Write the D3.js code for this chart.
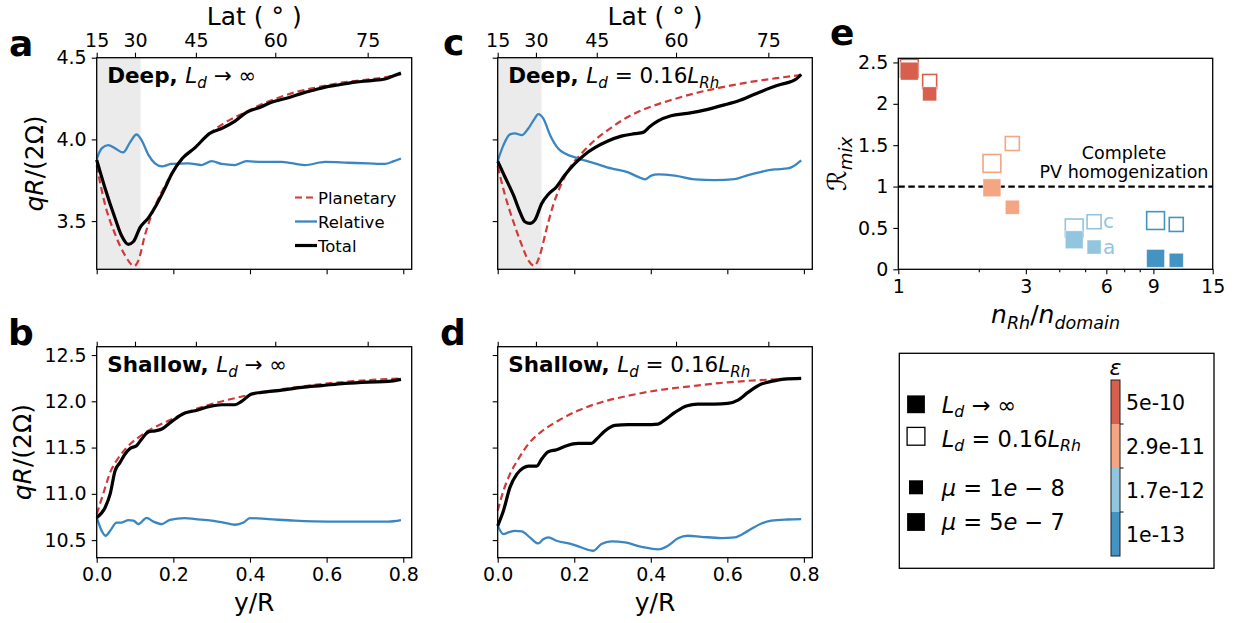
<!DOCTYPE html>
<html><head><meta charset="utf-8">
<script src="https://cdn.jsdelivr.net/npm/d3@7"></script>
<style>body{margin:0;background:#fff} svg{display:block} text{font-family:"DejaVu Sans",sans-serif;white-space:pre}</style>
</head><body><svg id="c" width="1237" height="623"></svg>
<script>
// ---------------- DATA ----------------
const latTicks = [15, 30, 45, 60, 75];
const yrTicks = [0.0, 0.2, 0.4, 0.6, 0.8];
const deepTicks = [3.5, 4.0, 4.5];
const shallowTicks = [10.5, 11.0, 11.5, 12.0, 12.5];
const shadeEnd = 0.115;

const aPlanetary = [[0,3.84],[0.022,3.60],[0.048,3.42],[0.074,3.29],[0.098,3.225],[0.109,3.26],[0.126,3.415],[0.143,3.537],[0.17,3.68],[0.196,3.79],[0.222,3.875],[0.26,3.96],[0.30,4.046],[0.34,4.11],[0.387,4.165],[0.43,4.215],[0.474,4.255],[0.52,4.29],[0.561,4.312],[0.60,4.33],[0.648,4.35],[0.69,4.362],[0.735,4.374],[0.794,4.398]];
const aRelative = [[0,3.88],[0.013,3.945],[0.030,3.965],[0.048,3.945],[0.069,3.92],[0.087,3.982],[0.104,4.03],[0.117,3.996],[0.135,3.905],[0.152,3.853],[0.17,3.835],[0.196,3.85],[0.239,3.853],[0.274,3.843],[0.30,3.867],[0.326,3.85],[0.361,3.843],[0.391,3.867],[0.43,3.862],[0.483,3.863],[0.543,3.843],[0.596,3.862],[0.657,3.857],[0.709,3.853],[0.752,3.85],[0.774,3.865],[0.794,3.883]];
const aTotal = [[0,3.875],[0.022,3.70],[0.048,3.517],[0.065,3.41],[0.0825,3.358],[0.096,3.375],[0.113,3.46],[0.135,3.52],[0.156,3.60],[0.178,3.70],[0.196,3.79],[0.222,3.88],[0.257,3.95],[0.295,4.037],[0.326,4.067],[0.361,4.112],[0.391,4.165],[0.430,4.20],[0.456,4.227],[0.50,4.255],[0.543,4.288],[0.570,4.304],[0.596,4.32],[0.63,4.333],[0.674,4.35],[0.717,4.36],[0.752,4.37],[0.769,4.384],[0.794,4.406]];

const cPlanetary = [[0,3.835],[0.019,3.66],[0.041,3.496],[0.063,3.353],[0.08,3.26],[0.096,3.227],[0.11,3.29],[0.128,3.455],[0.145,3.598],[0.167,3.73],[0.193,3.843],[0.219,3.914],[0.254,3.996],[0.297,4.072],[0.341,4.139],[0.393,4.194],[0.445,4.235],[0.515,4.282],[0.584,4.318],[0.654,4.349],[0.723,4.373],[0.793,4.394]];
const cRelative = [[0,3.868],[0.015,3.965],[0.032,4.031],[0.045,4.037],[0.063,4.026],[0.08,4.067],[0.097,4.129],[0.106,4.155],[0.119,4.129],[0.137,4.026],[0.158,3.945],[0.176,3.914],[0.21,3.884],[0.254,3.853],[0.297,3.822],[0.341,3.798],[0.367,3.771],[0.385,3.755],[0.401,3.778],[0.419,3.786],[0.463,3.778],[0.515,3.755],[0.567,3.751],[0.619,3.757],[0.654,3.782],[0.689,3.802],[0.723,3.816],[0.758,3.822],[0.775,3.839],[0.793,3.871]];
const cTotal = [[0,3.866],[0.019,3.77],[0.041,3.66],[0.058,3.557],[0.071,3.496],[0.084,3.486],[0.097,3.506],[0.115,3.608],[0.132,3.663],[0.154,3.71],[0.175,3.78],[0.202,3.853],[0.228,3.908],[0.254,3.949],[0.288,3.99],[0.323,4.02],[0.358,4.035],[0.380,4.043],[0.397,4.078],[0.418,4.112],[0.453,4.145],[0.496,4.159],[0.549,4.184],[0.601,4.217],[0.628,4.235],[0.671,4.276],[0.715,4.317],[0.741,4.337],[0.767,4.354],[0.780,4.37],[0.793,4.398]];

const bPlanetary = [[0,10.78],[0.017,11.0],[0.035,11.23],[0.057,11.39],[0.083,11.52],[0.109,11.61],[0.143,11.70],[0.187,11.79],[0.239,11.887],[0.30,11.97],[0.369,12.042],[0.43,12.096],[0.517,12.15],[0.604,12.194],[0.691,12.223],[0.794,12.248]];
const bRelative = [[0,10.745],[0.013,10.60],[0.023,10.547],[0.035,10.60],[0.052,10.69],[0.065,10.69],[0.083,10.716],[0.096,10.71],[0.109,10.673],[0.13,10.74],[0.148,10.70],[0.17,10.673],[0.191,10.72],[0.23,10.738],[0.257,10.727],[0.30,10.71],[0.33,10.69],[0.361,10.666],[0.383,10.69],[0.40,10.738],[0.448,10.727],[0.517,10.71],[0.604,10.70],[0.691,10.70],[0.761,10.70],[0.794,10.716]];
const bTotal = [[0,10.745],[0.022,10.853],[0.035,10.997],[0.048,11.25],[0.061,11.34],[0.074,11.43],[0.087,11.49],[0.104,11.52],[0.117,11.59],[0.135,11.67],[0.152,11.68],[0.17,11.70],[0.196,11.783],[0.230,11.873],[0.257,11.898],[0.295,11.945],[0.326,11.963],[0.361,11.963],[0.378,11.999],[0.404,12.078],[0.430,12.096],[0.483,12.12],[0.535,12.15],[0.587,12.17],[0.648,12.194],[0.709,12.208],[0.761,12.215],[0.794,12.237]];

const dPlanetary = [[0,10.82],[0.015,11.033],[0.032,11.213],[0.054,11.376],[0.080,11.538],[0.115,11.675],[0.158,11.79],[0.21,11.90],[0.271,11.99],[0.341,12.06],[0.428,12.125],[0.515,12.168],[0.601,12.205],[0.689,12.23],[0.793,12.248]];
const dRelative = [[0,10.655],[0.015,10.565],[0.028,10.583],[0.045,10.60],[0.063,10.594],[0.084,10.53],[0.106,10.464],[0.119,10.51],[0.132,10.53],[0.154,10.493],[0.193,10.457],[0.219,10.42],[0.249,10.385],[0.271,10.457],[0.297,10.486],[0.332,10.475],[0.376,10.428],[0.419,10.40],[0.445,10.44],[0.471,10.52],[0.497,10.547],[0.532,10.536],[0.584,10.522],[0.619,10.53],[0.654,10.60],[0.689,10.68],[0.715,10.71],[0.758,10.723],[0.793,10.727]];
const dTotal = [[0,10.655],[0.015,10.817],[0.032,11.07],[0.05,11.213],[0.067,11.28],[0.08,11.30],[0.102,11.30],[0.115,11.376],[0.132,11.455],[0.154,11.477],[0.18,11.52],[0.21,11.545],[0.245,11.545],[0.258,11.59],[0.28,11.68],[0.306,11.74],[0.341,11.747],[0.385,11.747],[0.419,11.754],[0.436,11.797],[0.463,11.88],[0.493,11.95],[0.523,11.97],[0.567,11.97],[0.601,11.977],[0.628,12.013],[0.654,12.096],[0.689,12.186],[0.715,12.215],[0.749,12.24],[0.793,12.248]];

// Panel e
const epsLabels = ["5e-10", "2.9e-11", "1.7e-12", "1e-13"];
const epsColors = ["#d6604d", "#f4a582", "#92c5de", "#4393c3"];
const eNratio = [1.10, 1.10, 1.31, 1.31, 2.24, 2.24, 2.67, 2.67, 4.55, 4.55, 5.40, 5.40, 9.17, 9.17, 10.96, 10.96];
const eRmix   = [2.43, 2.395, 2.27, 2.12, 1.28, 0.985, 1.52, 0.75, 0.50, 0.357, 0.575, 0.269, 0.589, 0.132, 0.542, 0.109];
const eEps    = [0, 0, 0, 0, 1, 1, 1, 1, 2, 2, 2, 2, 3, 3, 3, 3];
const eLd     = ["0.16", "inf", "0.16", "inf", "0.16", "inf", "0.16", "inf", "0.16", "inf", "0.16", "inf", "0.16", "inf", "0.16", "inf"];
const eMu     = ["5e-7", "5e-7", "1e-8", "1e-8", "5e-7", "5e-7", "1e-8", "1e-8", "5e-7", "5e-7", "1e-8", "1e-8", "5e-7", "5e-7", "1e-8", "1e-8"];
const eXTicks = [1, 3, 6, 9, 15];
const eXMinor = [2, 4, 5, 7, 8];
const eYTicks = [0, 0.5, 1, 1.5, 2, 2.5];

// ---------------- DRAWING ----------------
const svg = d3.select("#c");
const RED = "#cf3b3b", BLUE = "#3a86c2", BLACK = "#000";
const TICK_FS = 19, LAB_FS = 25;

function rich(parent, x, y, segs, fs, anchor, rot) {
  const t = parent.append("text").attr("x", x).attr("y", y).attr("font-size", fs)
    .attr("text-anchor", anchor || "start").attr("fill", "#000");
  if (rot != null) t.attr("transform", `rotate(${rot},${x},${y})`);
  let shift = 0;
  segs.forEach(s => {
    const sp = t.append("tspan").text(s.t);
    const target = s.sub ? fs * 0.22 : 0;
    if (target - shift !== 0) sp.attr("dy", target - shift);
    shift = target;
    if (s.sub) sp.attr("font-size", fs * 0.7);
    if (s.it) sp.attr("font-style", "italic");
    if (s.b) sp.attr("font-weight", "bold");
  });
  return t;
}

function styleAxis(g, fs) {
  g.select(".domain").remove();
  g.selectAll(".tick line").attr("stroke", "#000").attr("stroke-width", 1.1);
  g.selectAll(".tick text").attr("font-size", fs).attr("fill", "#000").style("font-family", "DejaVu Sans");
}

const latToY = lat => Math.cos(15 * Math.PI / 180) - Math.cos(lat * Math.PI / 180);

function panel(cfg) {
  const { L, R, T, B, ydom, yticks } = cfg;
  const x = d3.scaleLinear([0, 0.822], [L, R]);
  const y = d3.scaleLinear(ydom, [B, T]);
  const g = svg.append("g");
  if (cfg.shade) {
    g.append("rect").attr("x", x(0)).attr("y", T).attr("width", x(shadeEnd) - x(0)).attr("height", B - T).attr("fill", "#ebebeb");
    g.append("line").attr("x1", x(shadeEnd)).attr("x2", x(shadeEnd)).attr("y1", T).attr("y2", B).attr("stroke", "#f6f6f6").attr("stroke-width", 1);
  }
  const line = d3.line().x(d => x(d[0])).y(d => y(d[1])).curve(d3.curveMonotoneX);
  g.append("path").attr("d", line(cfg.planetary)).attr("fill", "none").attr("stroke", RED).attr("stroke-width", 2.2).attr("stroke-dasharray", "7,4");
  g.append("path").attr("d", line(cfg.relative)).attr("fill", "none").attr("stroke", BLUE).attr("stroke-width", 2.3);
  g.append("path").attr("d", line(cfg.total)).attr("fill", "none").attr("stroke", BLACK).attr("stroke-width", 3.2).attr("stroke-linejoin", "round");

  g.append("rect").attr("x", L).attr("y", T).attr("width", R - L).attr("height", B - T).attr("fill", "none").attr("stroke", "#000").attr("stroke-width", 1.3);

  const ax = g.append("g").attr("transform", `translate(0,${B})`)
    .call(d3.axisBottom(x).tickValues(yrTicks).tickSize(5).tickPadding(5).tickFormat(cfg.xlab ? d3.format(".1f") : () => ""));
  styleAxis(ax, TICK_FS);
  const top = g.append("g").attr("transform", `translate(0,${T})`)
    .call(d3.axisTop(x).tickValues(latTicks.map(latToY)).tickSize(5).tickPadding(6).tickFormat((d, i) => cfg.toplab ? String(latTicks[i]) : ""));
  styleAxis(top, TICK_FS);
  const ay = g.append("g").attr("transform", `translate(${L},0)`)
    .call(d3.axisLeft(y).tickValues(yticks).tickSize(5).tickPadding(5).tickFormat(cfg.ylab ? d3.format(".1f") : () => ""));
  styleAxis(ay, TICK_FS);

  if (cfg.toplab) rich(g, (L + R) / 2, 25, [{ t: "Lat ( " }, { t: "°" }, { t: " )" }], LAB_FS, "middle");
  if (cfg.xlab) rich(g, (L + R) / 2, 611, [{ t: "y/R" }], LAB_FS, "middle");
  if (cfg.ylab) rich(g, cfg.ylabX, (T + B) / 2, [{ t: "qR", it: true }, { t: "/(2Ω)" }], LAB_FS, "middle", -90);

  rich(g, L + 10.5, T + 25.5, cfg.title, 21.5, "start");
  svg.append("text").attr("x", cfg.letter[1]).attr("y", cfg.letter[2]).attr("font-size", 36).attr("font-weight", "bold").text(cfg.letter[0]);
  return { x, y, g };
}

panel({ L: 96.7, R: 411.7, T: 57.7, B: 269.3, ydom: [3.205, 4.5], yticks: deepTicks, shade: true,
  planetary: aPlanetary, relative: aRelative, total: aTotal, toplab: true, xlab: false, ylab: true, ylabX: 43,
  title: [{ t: "Deep, ", b: true }, { t: "L", it: true }, { t: "d", it: true, sub: true }, { t: " → ∞" }], letter: ["a", 9, 56] });
panel({ L: 497.7, R: 812.3, T: 57.7, B: 269.3, ydom: [3.205, 4.5], yticks: deepTicks, shade: true,
  planetary: cPlanetary, relative: cRelative, total: cTotal, toplab: true, xlab: false, ylab: false,
  title: [{ t: "Deep, ", b: true }, { t: "L", it: true }, { t: "d", it: true, sub: true }, { t: " = 0.16" }, { t: "L", it: true }, { t: "Rh", it: true, sub: true }], letter: ["c", 443, 55] });
panel({ L: 96.7, R: 411.7, T: 346.7, B: 557.7, ydom: [10.31, 12.59], yticks: shallowTicks, shade: false,
  planetary: bPlanetary, relative: bRelative, total: bTotal, toplab: false, xlab: true, ylab: true, ylabX: 31,
  title: [{ t: "Shallow, ", b: true }, { t: "L", it: true }, { t: "d", it: true, sub: true }, { t: " → ∞" }], letter: ["b", 8, 345] });
panel({ L: 497.7, R: 812.3, T: 346.7, B: 557.7, ydom: [10.31, 12.59], yticks: shallowTicks, shade: false,
  planetary: dPlanetary, relative: dRelative, total: dTotal, toplab: false, xlab: true, ylab: false,
  title: [{ t: "Shallow, ", b: true }, { t: "L", it: true }, { t: "d", it: true, sub: true }, { t: " = 0.16" }, { t: "L", it: true }, { t: "Rh", it: true, sub: true }], letter: ["d", 440, 345] });

// legend in panel a
const legA = [["Planetary", RED, 2.2, "7,4"], ["Relative", BLUE, 2.3, null], ["Total", BLACK, 3.2, null]];
legA.forEach((d, i) => {
  const yy = 197.5 + i * 24;
  const ln = svg.append("line").attr("x1", 295).attr("x2", 317).attr("y1", yy).attr("y2", yy).attr("stroke", d[1]).attr("stroke-width", d[2]);
  if (d[3]) ln.attr("stroke-dasharray", d[3]);
  svg.append("text").attr("x", 318).attr("y", yy + 6).attr("font-size", 16.5).text(d[0]);
});

// ---------------- Panel e ----------------
const eL = 898.3, eR = 1212.7, eT = 58.3, eB = 269.3;
const xe = d3.scaleLog([1, 15], [eL, eR]);
const ye = d3.scaleLinear([0, 2.55], [eB, eT]);
const ge = svg.append("g");
ge.append("line").attr("x1", eL).attr("x2", eR).attr("y1", ye(1)).attr("y2", ye(1)).attr("stroke", "#000").attr("stroke-width", 2.2).attr("stroke-dasharray", "6.5,3.5");
const sizeOf = mu => mu === "5e-7" ? 17.8 : 14;
const idx = d3.range(eNratio.length);
const order = idx.filter(i => eLd[i] === "0.16").concat(idx.filter(i => eLd[i] === "inf"));
order.forEach(i => {
  const s = sizeOf(eMu[i]);
  const cx = xe(eNratio[i]), cy = ye(eRmix[i]);
  const r = ge.append("rect").attr("x", cx - s / 2).attr("y", cy - s / 2).attr("width", s).attr("height", s);
  if (eLd[i] === "inf") r.attr("fill", epsColors[eEps[i]]).attr("stroke", "#fff").attr("stroke-opacity", 0.5).attr("stroke-width", 0.8);
  else r.attr("fill", "#fff").attr("stroke", epsColors[eEps[i]]).attr("stroke-width", 1.6);
});
ge.append("text").attr("x", 1103).attr("y", 227.5).attr("font-size", 20).attr("fill", epsColors[2]).text("c");
ge.append("text").attr("x", 1103).attr("y", 254).attr("font-size", 20).attr("fill", epsColors[2]).text("a");
ge.append("text").attr("x", 1124).attr("y", 159.3).attr("font-size", 17.5).attr("text-anchor", "middle").text("Complete");
ge.append("text").attr("x", 1124).attr("y", 178.3).attr("font-size", 17.5).attr("text-anchor", "middle").text("PV homogenization");
ge.append("rect").attr("x", eL).attr("y", eT).attr("width", eR - eL).attr("height", eB - eT).attr("fill", "none").attr("stroke", "#000").attr("stroke-width", 1.3);
const exA = ge.append("g").attr("transform", `translate(0,${eB})`).call(d3.axisBottom(xe).tickValues(eXTicks).tickSize(5).tickPadding(5).tickFormat(d => String(d)));
styleAxis(exA, TICK_FS);
const exM = ge.append("g").attr("transform", `translate(0,${eB})`).call(d3.axisBottom(xe).tickValues(eXMinor).tickSize(3).tickFormat(() => ""));
styleAxis(exM, TICK_FS);
const eyA = ge.append("g").attr("transform", `translate(${eL},0)`).call(d3.axisLeft(ye).tickValues(eYTicks).tickSize(5).tickPadding(5).tickFormat(d => String(d)));
styleAxis(eyA, TICK_FS);
rich(ge, (eL + eR) / 2, 323, [{ t: "n", it: true }, { t: "Rh", it: true, sub: true }, { t: "/" }, { t: "n", it: true }, { t: "domain", it: true, sub: true }], LAB_FS, "middle");
rich(ge, 846, (eT + eB) / 2, [{ t: "ℛ" }, { t: "mix", it: true, sub: true }], 26, "middle", -90);
svg.append("text").attr("x", 830).attr("y", 45).attr("font-size", 36).attr("font-weight", "bold").text("e");

// ---------------- Legend box with colorbar ----------------
const lg = svg.append("g");
lg.append("rect").attr("x", 899.3).attr("y", 353.3).attr("width", 314.7).attr("height", 215).attr("fill", "#fff").attr("stroke", "#000").attr("stroke-width", 1.3);
const legRows = [
  { cy: 404.3, s: 17.8, filled: true, ty: 412.5, segs: [{ t: "L", it: true }, { t: "d", it: true, sub: true }, { t: " → ∞" }] },
  { cy: 436.3, s: 17.8, filled: false, ty: 446.5, segs: [{ t: "L", it: true }, { t: "d", it: true, sub: true }, { t: " = 0.16" }, { t: "L", it: true }, { t: "Rh", it: true, sub: true }] },
  { cy: 487.3, s: 14, filled: true, ty: 496, segs: [{ t: "μ", it: true }, { t: " = 1" }, { t: "e", it: true }, { t: " − 8" }] },
  { cy: 522, s: 17.8, filled: true, ty: 529.5, segs: [{ t: "μ", it: true }, { t: " = 5" }, { t: "e", it: true }, { t: " − 7" }] }
];
legRows.forEach(r => {
  lg.append("rect").attr("x", 916 - r.s / 2).attr("y", r.cy - r.s / 2).attr("width", r.s).attr("height", r.s)
    .attr("fill", r.filled ? "#000" : "#fff").attr("stroke", "#000").attr("stroke-width", r.filled ? 0 : 1.3);
  rich(lg, 941.7, r.ty, r.segs, 22.5, "start");
});
const cbX = 1111, cbW = 9, cbT = 380, cbB = 556;
const cbScale = d3.scaleBand().domain(epsLabels).range([cbT, cbB]);
epsLabels.forEach((lab, i) => {
  lg.append("rect").attr("x", cbX).attr("y", cbScale(lab)).attr("width", cbW).attr("height", cbScale.bandwidth()).attr("fill", epsColors[i]);
  lg.append("text").attr("x", 1126).attr("y", cbScale(lab) + cbScale.bandwidth() / 2 + 7.8).attr("font-size", 20.5).text(lab);
  if (i > 0) lg.append("line").attr("x1", cbX + cbW).attr("x2", cbX + cbW + 3.5).attr("y1", cbScale(lab)).attr("y2", cbScale(lab)).attr("stroke", "#000").attr("stroke-width", 1);
});
lg.append("rect").attr("x", cbX).attr("y", cbT).attr("width", cbW).attr("height", cbB - cbT).attr("fill", "none").attr("stroke", "#222").attr("stroke-width", 1);
lg.append("text").attr("x", 1115.5).attr("y", 375).attr("font-size", 22).attr("font-style", "italic").attr("text-anchor", "middle").text("ε");
</script></body></html>
